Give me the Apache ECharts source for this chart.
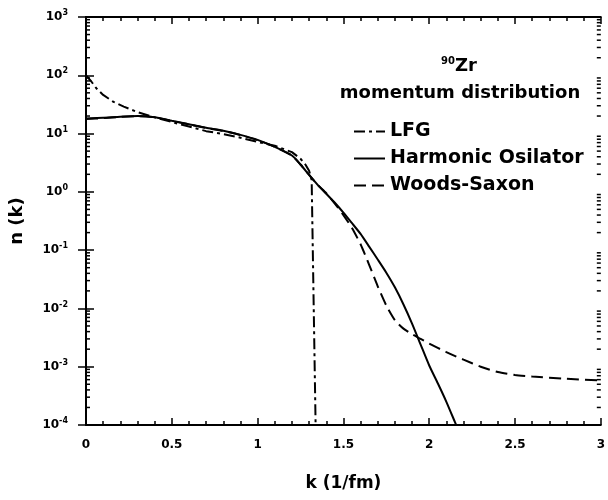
<!DOCTYPE html>
<html>
<head>
<meta charset="utf-8">
<script src="https://cdn.jsdelivr.net/npm/echarts@6/dist/echarts.min.js"></script>
<style>
  html, body { margin: 0; padding: 0; background: #fff; }
  #chart { width: 608px; height: 500px; }
</style>
</head>
<body>
<div id="chart"></div>
<script>
// 90Zr momentum distribution n(k) for three nuclear density models

// Harmonic oscillator (solid)
const hoK = [0, 0.1, 0.2, 0.3, 0.4, 0.5, 0.6, 0.7, 0.8, 0.9, 1.0, 1.1, 1.2, 1.25, 1.3, 1.35, 1.4,
  1.45, 1.5, 1.55, 1.6, 1.65, 1.7, 1.75, 1.8, 1.85, 1.9, 1.95, 2.0, 2.05, 2.1, 2.15, 2.2];
const hoN = [18.2, 18.6, 19.5, 20.0, 19.1, 16.6, 14.5, 12.6, 11.2, 9.5, 7.8, 5.9, 4.2, 2.95, 1.95, 1.32, 0.93,
  0.65, 0.44, 0.29, 0.19, 0.115, 0.069, 0.041, 0.023, 0.0117, 0.0055, 0.0024, 0.00105, 0.00052, 0.00025, 0.000112, 0.00005];

// Local Fermi gas (dash-dot), sharp cut at the maximum Fermi momentum
const lfgK = [0, 0.03, 0.06, 0.1, 0.16, 0.22, 0.3, 0.4, 0.5, 0.6, 0.7, 0.8, 0.9, 1.0, 1.1, 1.2, 1.25, 1.28, 1.3, 1.315, 1.338, 1.34];
const lfgN = [100, 79, 60, 46, 35, 29, 23.4, 19, 15.8, 13.2, 11, 9.8, 8.5, 7.2, 6.2, 4.8, 3.7, 2.9, 2.3, 1.6, 0.0001, 0.00005];

// Woods-Saxon (dashed)
const wsK = [0, 0.1, 0.2, 0.3, 0.4, 0.5, 0.6, 0.7, 0.8, 0.9, 1.0, 1.1, 1.2, 1.25, 1.3, 1.35, 1.4,
  1.45, 1.5, 1.55, 1.6, 1.65, 1.7, 1.75, 1.8, 1.85, 1.9, 1.95, 2.0, 2.1, 2.2, 2.3, 2.4, 2.5, 2.6, 2.8, 3.0];
const wsN = [17.8, 18.4, 19.3, 19.8, 19.0, 16.5, 14.4, 12.5, 11.1, 9.4, 7.7, 5.9, 4.2, 2.95, 1.95, 1.32, 0.95,
  0.63, 0.40, 0.24, 0.126, 0.056, 0.024, 0.0112, 0.0063, 0.0045, 0.0036, 0.0030, 0.0025, 0.00178, 0.00132, 0.001, 0.00081, 0.00072, 0.00068, 0.00062, 0.00058];

// axis ticks
const xTicks = ['0', '0.5', '1', '1.5', '2', '2.5', '3'];
const yExponents = [-4, -3, -2, -1, 0, 1, 2, 3];

const seriesNames = ['LFG', 'Harmonic Osilator', 'Woods-Saxon'];

const FONT = 'DejaVu Sans';

const pairs = (ks, ns) => ks.map((k, i) => [k, ns[i]]);

// minor log ticks 2..9 within each decade
const minorLog = [];
for (let i = 0; i < yExponents.length - 1; i++) {
  for (let m = 2; m <= 9; m++) minorLog.push([0, m * Math.pow(10, yExponents[i])]);
}

const chart = echarts.init(document.getElementById('chart'));

const axisLineStyle = { color: '#000', width: 2 };

chart.setOption({
  animation: false,
  backgroundColor: '#fff',
  textStyle: { fontFamily: FONT },
  grid: { left: 86, right: 6, top: 17, bottom: 75, containLabel: false },
  xAxis: [
    {
      type: 'value', min: 0, max: 3, interval: 0.5,
      name: 'k (1/fm)', nameLocation: 'middle', nameGap: 50,
      nameTextStyle: { fontFamily: FONT, fontWeight: 'bold', fontSize: 17, color: '#000' },
      axisLine: { lineStyle: axisLineStyle },
      axisTick: { inside: true, length: 7, lineStyle: { color: '#000', width: 1.5 } },
      minorTick: { show: true, splitNumber: 5, length: 4, lineStyle: { color: '#000', width: 1.5 } },
      axisLabel: {
        margin: 14, fontFamily: FONT, fontWeight: 'bold', fontSize: 12, color: '#000',
        formatter: (v) => xTicks[Math.round(v / 0.5)]
      },
      splitLine: { show: false }
    },
    {
      type: 'value', min: 0, max: 3, interval: 0.5, position: 'top',
      axisLine: { lineStyle: axisLineStyle },
      axisTick: { inside: true, length: 7, lineStyle: { color: '#000', width: 1.5 } },
      minorTick: { show: true, splitNumber: 5, length: 4, lineStyle: { color: '#000', width: 1.5 } },
      axisLabel: { show: false },
      splitLine: { show: false }
    }
  ],
  yAxis: [
    {
      type: 'log', logBase: 10, min: 1e-4, max: 1e3, interval: 1,
      name: 'n (k)', nameLocation: 'middle', nameGap: 60, nameRotate: 90,
      nameTextStyle: { fontFamily: FONT, fontWeight: 'bold', fontSize: 18, color: '#000' },
      axisLine: { lineStyle: axisLineStyle },
      axisTick: { inside: true, length: 8, lineStyle: { color: '#000', width: 1.5 } },
      axisLabel: {
        margin: 18, fontFamily: FONT, fontWeight: 'bold', fontSize: 12, color: '#000',
        formatter: (v) => '10{sup|' + yExponents[yExponents.indexOf(Math.round(Math.log10(v)))] + '}',
        rich: { sup: { fontSize: 8, fontWeight: 'bold', fontFamily: FONT, padding: [0, 0, 8, 0] } }
      },
      splitLine: { show: false }
    },
    {
      type: 'log', logBase: 10, min: 1e-4, max: 1e3, interval: 1, position: 'right',
      axisLine: { lineStyle: axisLineStyle },
      axisTick: { inside: true, length: 8, lineStyle: { color: '#000', width: 1.5 } },
      axisLabel: { show: false },
      splitLine: { show: false }
    }
  ],
  legend: {
    left: 353, top: 122, orient: 'vertical', padding: 0,
    itemWidth: 31, itemHeight: 14, itemGap: 8,
    data: seriesNames,
    itemStyle: { opacity: 0 },
    textStyle: { fontFamily: FONT, fontWeight: 'bold', fontSize: 19, color: '#000' }
  },
  graphic: [
    {
      type: 'text', position: [441, 56],
      style: {
        text: '{iso|90}{el|Zr}',
        rich: {
          iso: { fontFamily: FONT, fontWeight: 'bold', fontSize: 10, fill: '#000', padding: [0, 0, 10, 0] },
          el: { fontFamily: FONT, fontWeight: 'bold', fontSize: 18, fill: '#000' }
        }
      }
    },
    {
      type: 'text', position: [460, 93],
      style: {
        text: 'momentum distribution', align: 'center', verticalAlign: 'middle',
        font: 'bold 18px "DejaVu Sans"', fill: '#000'
      }
    }
  ],
  series: [
    {
      name: 'LFG', type: 'line', showSymbol: false, symbol: 'none',
      data: pairs(lfgK, lfgN), clip: true,
      lineStyle: { color: '#000', width: 2, type: [11, 4, 3, 4] },
      itemStyle: { color: '#000' }
    },
    {
      name: 'Harmonic Osilator', type: 'line', showSymbol: false, symbol: 'none', smooth: 0.2,
      data: pairs(hoK, hoN), clip: true,
      lineStyle: { color: '#000', width: 2, type: 'solid' },
      itemStyle: { color: '#000' }
    },
    {
      name: 'Woods-Saxon', type: 'line', showSymbol: false, symbol: 'none', smooth: 0.2,
      data: pairs(wsK, wsN), clip: true,
      lineStyle: { color: '#000', width: 2, type: [12, 6] },
      itemStyle: { color: '#000' }
    },
    {
      // log-spaced minor ticks on the left and right frame
      type: 'custom', silent: true, data: minorLog,
      renderItem: (params, api) => {
        const y = api.coord([0, api.value(1)])[1];
        const cs = params.coordSys;
        return {
          type: 'group',
          children: [
            { type: 'line', shape: { x1: cs.x, y1: y, x2: cs.x + 4, y2: y }, style: { stroke: '#000', lineWidth: 1.5 } },
            { type: 'line', shape: { x1: cs.x + cs.width, y1: y, x2: cs.x + cs.width - 4, y2: y }, style: { stroke: '#000', lineWidth: 1.5 } }
          ]
        };
      }
    }
  ]
});
</script>
</body>
</html>
